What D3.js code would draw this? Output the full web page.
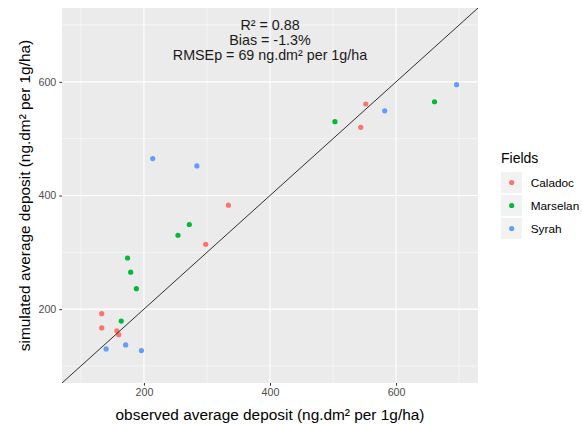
<!DOCTYPE html>
<html><head><meta charset="utf-8">
<script src="https://cdn.jsdelivr.net/npm/d3@7"></script>
<style>body{margin:0;background:#fff} text{font-family:"Liberation Sans",Arial,sans-serif}</style>
</head><body><svg id="c" width="582" height="424"></svg>
<script>
// ---- data ----
const fields = ["Caladoc", "Marselan", "Syrah"];
const fieldColors = ["#F8766D", "#00BA38", "#619CFF"];
const caladocObserved  = [334, 298, 133, 133, 157, 160, 552, 544];
const caladocSimulated = [383, 314, 192, 167, 162, 155, 561, 520];
const marselanObserved  = [272, 254, 174, 179, 188, 164, 661, 503];
const marselanSimulated = [349, 330, 290, 265, 236, 179, 565, 530];
const syrahObserved  = [171, 140, 196, 214, 284, 696, 582];
const syrahSimulated = [137, 130, 127, 465, 452, 595, 549];
const axisLimits = [70, 730];
const majorTicks = [200, 400, 600];
const minorTicks = [100, 300, 500, 700];
const annotationLines = ["R\u00B2 = 0.88", "Bias = -1.3%", "RMSEp = 69 ng.dm\u00B2 per 1g/ha"];
const xTitle = "observed average deposit (ng.dm\u00B2 per 1g/ha)";
const yTitle = "simulated average deposit (ng.dm\u00B2 per 1g/ha)";
const legendTitle = "Fields";

const series = [
  {field: fields[0], obs: caladocObserved, sim: caladocSimulated},
  {field: fields[1], obs: marselanObserved, sim: marselanSimulated},
  {field: fields[2], obs: syrahObserved, sim: syrahSimulated}
];
const points = series.flatMap(s => s.obs.map((o, i) => ({field: s.field, x: o, y: s.sim[i]})));

// ---- layout ----
const P = {l: 62, r: 478, t: 8, b: 383};
const svg = d3.select("#c");
const x = d3.scaleLinear().domain(axisLimits).range([P.l, P.r]);
const y = d3.scaleLinear().domain(axisLimits).range([P.b, P.t]);
const color = d3.scaleOrdinal().domain(fields).range(fieldColors);

svg.append("rect").attr("x", P.l).attr("y", P.t).attr("width", P.r - P.l).attr("height", P.b - P.t).attr("fill", "#EBEBEB");
svg.append("clipPath").attr("id", "clip").append("rect").attr("x", P.l).attr("y", P.t).attr("width", P.r - P.l).attr("height", P.b - P.t);

const grid = svg.append("g");
minorTicks.forEach(v => {
  grid.append("line").attr("x1", x(v)).attr("x2", x(v)).attr("y1", P.t).attr("y2", P.b).attr("stroke", "#fff").attr("stroke-width", 0.55);
  grid.append("line").attr("y1", y(v)).attr("y2", y(v)).attr("x1", P.l).attr("x2", P.r).attr("stroke", "#fff").attr("stroke-width", 0.55);
});
majorTicks.forEach(v => {
  grid.append("line").attr("x1", x(v)).attr("x2", x(v)).attr("y1", P.t).attr("y2", P.b).attr("stroke", "#fff").attr("stroke-width", 1.1);
  grid.append("line").attr("y1", y(v)).attr("y2", y(v)).attr("x1", P.l).attr("x2", P.r).attr("stroke", "#fff").attr("stroke-width", 1.1);
});

// points
svg.append("g").selectAll("circle").data(points).join("circle")
  .attr("cx", d => x(d.x)).attr("cy", d => y(d.y)).attr("r", 2.6)
  .attr("fill", d => color(d.field));

// 1:1 line
svg.append("line").attr("clip-path", "url(#clip)")
  .attr("x1", x(axisLimits[0])).attr("y1", y(axisLimits[0]))
  .attr("x2", x(axisLimits[1])).attr("y2", y(axisLimits[1]))
  .attr("stroke", "#1a1a1a").attr("stroke-width", 0.9);

// annotation
const ann = svg.append("text").attr("text-anchor", "middle").attr("font-size", 14.3).attr("fill", "#1a1a1a");
annotationLines.forEach((t, i) => {
  ann.append("tspan").attr("x", x(400)).attr("y", y(700) + 5 + i * 15).text(t);
});

// axes
const xa = svg.append("g").attr("transform", `translate(0,${P.b})`)
  .call(d3.axisBottom(x).tickValues(majorTicks).tickSize(2.7).tickPadding(3));
const ya = svg.append("g").attr("transform", `translate(${P.l},0)`)
  .call(d3.axisLeft(y).tickValues(majorTicks).tickSize(2.7).tickPadding(3));
[xa, ya].forEach(a => {
  a.select(".domain").remove();
  a.selectAll(".tick line").attr("stroke", "#333333").attr("stroke-width", 1);
  a.selectAll(".tick text").attr("fill", "#4D4D4D").attr("font-size", 10.7)
    .attr("font-family", "'Liberation Sans',Arial,sans-serif");
});

svg.append("text").attr("x", (P.l + P.r) / 2).attr("y", 420).attr("text-anchor", "middle")
  .attr("font-size", 15.4).attr("fill", "#000").text(xTitle);
svg.append("text").attr("transform", `translate(30,${(P.t + P.b) / 2}) rotate(-90)`).attr("text-anchor", "middle")
  .attr("font-size", 15.4).attr("fill", "#000").text(yTitle);

// legend
const lg = svg.append("g");
lg.append("text").attr("x", 501).attr("y", 163).attr("font-size", 14).attr("fill", "#000").text(legendTitle);
fields.forEach((f, i) => {
  const y0 = 171.5 + i * 23;
  lg.append("rect").attr("x", 500.5).attr("y", y0).attr("width", 22).attr("height", 22)
    .attr("fill", "#F2F2F2").attr("stroke", "#fff").attr("stroke-width", 1);
  lg.append("circle").attr("cx", 511.7).attr("cy", y0 + 11).attr("r", 2.6).attr("fill", color(f));
  lg.append("text").attr("x", 530.7).attr("y", y0 + 11).attr("dy", "0.35em").attr("font-size", 11.8)
    .attr("fill", "#000").text(f);
});
</script></body></html>
